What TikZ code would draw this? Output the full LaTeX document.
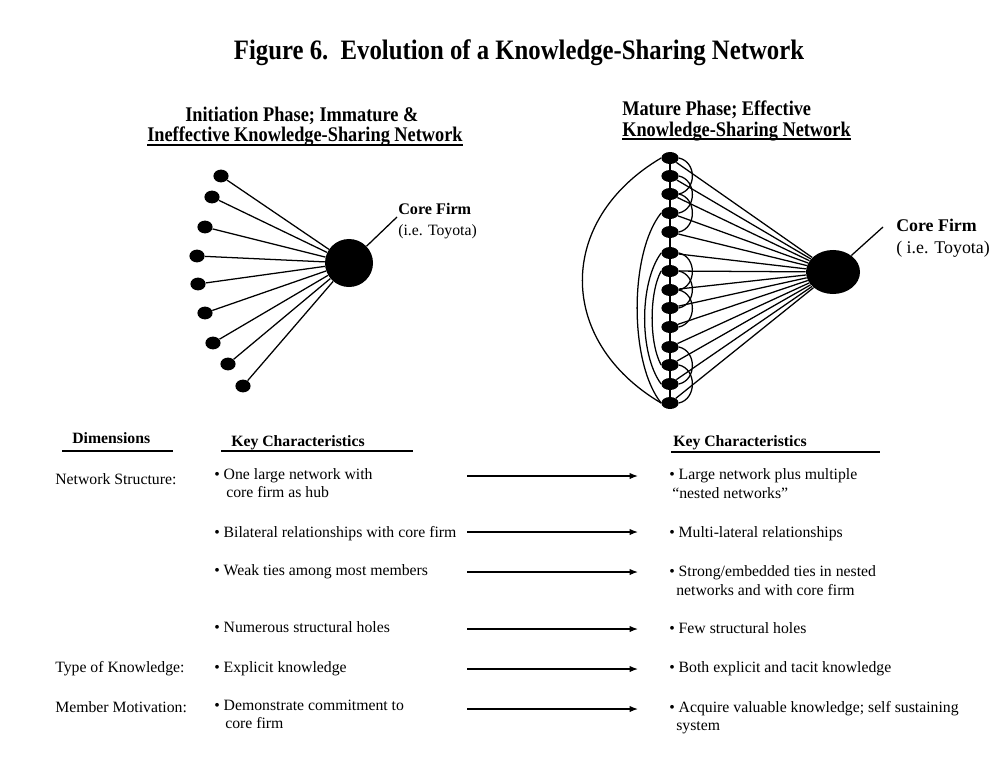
\documentclass[tikz,border=0pt]{standalone}
\usepackage{fontspec}
\setmainfont{Liberation Serif}
\newfontfamily\condfont{Liberation Serif}[FakeStretch=0.88]
\usetikzlibrary{shapes.geometric,arrows.meta,calc}

\begin{document}
\begin{tikzpicture}[x=0.025cm, y=-0.025cm,
	sat/.style={ellipse, fill, inner sep=0pt, minimum width=3.8mm, minimum height=3.2mm},
	link/.style={ellipse, fill, inner sep=0pt, minimum width=4.3mm, minimum height=3mm},
	tie/.style={line width=0.9pt},
	txt/.style={anchor=base west, inner sep=0pt, font=\fontsize{11.2}{13}\selectfont},
	hd/.style={anchor=base west, inner sep=0pt, font=\fontsize{11.2}{13}\selectfont\bfseries},
	phase/.style={anchor=base west, inner sep=0pt, font=\condfont\fontsize{14.8}{16}\selectfont\bfseries},
	flow/.style={line width=0.8pt, -{Latex[length=6pt,width=4.5pt]}}]
	%\draw[help lines, step=50] (0,0) grid (998,783);
	\useasboundingbox (0,0) rectangle (998,783);
	
	\node [anchor=base, inner sep=0pt, font=\condfont\fontsize{20}{24}\selectfont\bfseries] (title) at (519,59) {Figure 6.\ \ Evolution of a Knowledge-Sharing Network};
	
	% initiation phase
	\node [phase] (lh1) at (185,121) {Initiation Phase; Immature \&};
	\node [phase] (lh2) at (147,141) {Ineffective Knowledge-Sharing Network};
	\draw [line width=1pt] (lh2.west |- 0,145) -- (lh2.east |- 0,145);
	
	\foreach \n/\x/\y in {1/221/176, 2/212/197, 3/205/227, 4/197/256, 5/198/284, 6/205/313, 7/213/343, 8/228/364, 9/243/386}
		\node [sat] (ls\n) at (\x,\y) {};
	\node [circle, fill, inner sep=0pt, minimum size=12mm] (lhub) at (349,263) {};
	\foreach \n in {1,...,9}
		\draw [tie] (ls\n) -- (lhub);
	
	\coordinate (lcall) at (397,217);
	\draw [tie] (lhub) -- (lcall);
	\node [hd, font=\fontsize{11.5}{13}\selectfont\bfseries] (lcore) at (398,214) {Core Firm};
	\node [txt] (ltoy) at (398,235) {(i.e. Toyota)};
	
	% mature phase
	\node [phase] (rh1) at (622,115) {Mature Phase; Effective};
	\node [phase] (rh2) at (622,136) {Knowledge-Sharing Network};
	\draw [line width=1pt] (rh2.west |- 0,139) -- (rh2.east |- 0,139);
	
	\foreach \n/\y in {1/158, 2/176, 3/194, 4/213, 5/232, 6/253, 7/271, 8/290, 9/308, 10/327, 11/347, 12/365, 13/384, 14/403}
		\node [link] (rn\n) at (670,\y) {};
	\node [ellipse, fill, inner sep=0pt, minimum width=13.5mm, minimum height=11mm] (rhub) at (833,272) {};
	\foreach \n in {1,...,14}
		\draw [tie] (rn\n) -- (rhub);
	\draw [tie] (rn1.center) -- (rn14.center);
	
	% nested ties
	\foreach \a/\b in {1/3, 2/4, 3/5, 6/8, 7/9, 8/10, 11/13, 12/14}
		\draw [tie] (rn\a.east) .. controls ($(rn\a.east)+(18,4)$) and ($(rn\b.east)+(18,-4)$) .. (rn\b.east);
	\draw [tie] (rn4.west) .. controls ($(rn4.west)+(-32,40)$) and ($(rn14.west)+(-32,-40)$) .. (rn14.west);
	\draw [tie] (rn6.west) .. controls ($(rn6.west)+(-22,30)$) and ($(rn13.west)+(-22,-30)$) .. (rn13.west);
	\draw [tie] (rn7.west) .. controls ($(rn7.west)+(-12,22)$) and ($(rn12.west)+(-12,-22)$) .. (rn12.west);
	\draw [tie] (rn1.west) .. controls ($(rn1.west)+(-105,62)$) and ($(rn14.west)+(-105,-62)$) .. (rn14.west);
	
	\coordinate (rcall) at (883,227);
	\draw [tie] (rhub) -- (rcall);
	\node [hd, font=\fontsize{12.7}{14}\selectfont\bfseries] (rcore) at (896,231) {Core Firm};
	\node [txt, font=\fontsize{12.7}{14}\selectfont] (rtoy) at (896,253) {( i.e. Toyota)};
	
	% table
	\node [hd] (dim) at (72,443) {Dimensions};
	\node [hd] (lkey) at (231,446) {Key Characteristics};
	\node [hd] (rkey) at (673,446) {Key Characteristics};
	\draw [line width=1pt] (62,451) -- (173,451);
	\draw [line width=1pt] (221,451) -- (413,451);
	\draw [line width=1pt] (671,452) -- (880,452);
	
	\node [txt] (d1) at (55,484) {Network Structure:};
	\node [txt] (d2) at (55,672) {Type of Knowledge:};
	\node [txt] (d3) at (55,712) {Member Motivation:};
	
	\node [txt] (l1) at (214,479) {\textbullet\ One large network with};
	\node [txt] (l1b) at (226,497) {core firm as hub};
	\node [txt] (l2) at (214,537) {\textbullet\ Bilateral relationships with core firm};
	\node [txt] (l3) at (214,575) {\textbullet\ Weak ties among most members};
	\node [txt] (l4) at (214,632) {\textbullet\ Numerous structural holes};
	\node [txt] (l5) at (214,672) {\textbullet\ Explicit knowledge};
	\node [txt] (l6) at (214,710) {\textbullet\ Demonstrate commitment to};
	\node [txt] (l6b) at (225,728) {core firm};
	
	\node [txt] (r1) at (669,479) {\textbullet\ Large network plus multiple};
	\node [txt] (r1b) at (672,498) {``nested networks''};
	\node [txt] (r2) at (669,537) {\textbullet\ Multi-lateral relationships};
	\node [txt] (r3) at (669,576) {\textbullet\ Strong/embedded ties in nested};
	\node [txt] (r3b) at (676,595) {networks and with core firm};
	\node [txt] (r4) at (669,633) {\textbullet\ Few structural holes};
	\node [txt] (r5) at (669,672) {\textbullet\ Both explicit and tacit knowledge};
	\node [txt] (r6) at (669,712) {\textbullet\ Acquire valuable knowledge; self sustaining};
	\node [txt] (r6b) at (676,730) {system};
	
	\foreach \n/\y in {1/476, 2/532, 3/572, 4/629, 5/669, 6/709} {
		\coordinate (a\n) at (467,\y);
		\coordinate (b\n) at (638,\y);
		\draw [flow] (a\n) -- (b\n);
	}
	
\end{tikzpicture}
\end{document}
